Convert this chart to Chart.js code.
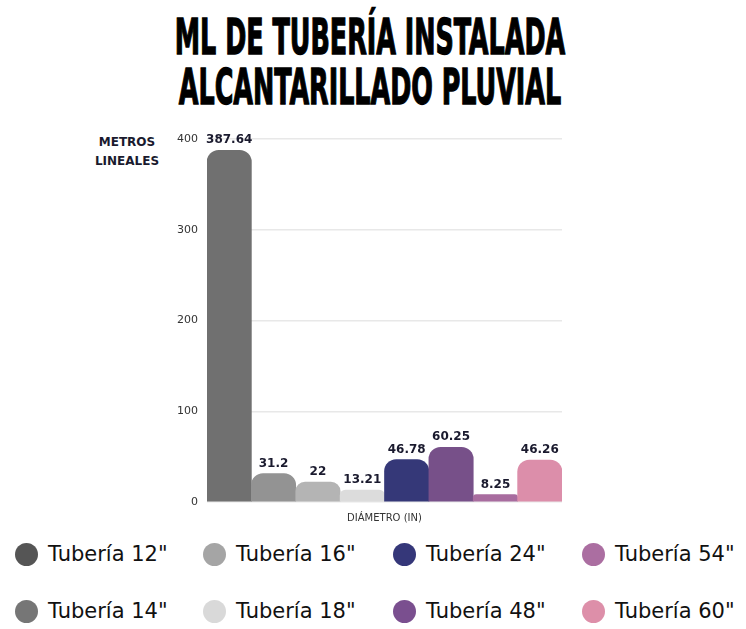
<!DOCTYPE html>
<html lang="es">
<head>
<meta charset="utf-8">
<title>ML de tubería instalada - Alcantarillado pluvial</title>
<script src="https://cdn.jsdelivr.net/npm/chart.js@4/dist/chart.umd.min.js"></script>
<style>
  html, body { margin: 0; padding: 0; background: #fff; }
  body { width: 746px; height: 629px; position: relative; overflow: hidden; }
  .linea {
    position: absolute; left: 0; width: 740px; text-align: center;
    font-family: "Liberation Sans Narrow", "DejaVu Sans Condensed", sans-serif;
    font-weight: bold; font-size: 50px; line-height: 50px; color: #000;
    -webkit-text-stroke: 1.3px #000;
    transform: scaleX(0.565); transform-origin: 370px 0;
  }
  #tituloY {
    position: absolute; left: 77px; top: 133px; width: 100px; text-align: center;
    font-family: "DejaVu Sans", sans-serif; font-weight: bold; font-size: 12px;
    line-height: 19px; color: #1a1a2e;
  }
  #contenedor { position: absolute; left: 0; top: 110px; width: 600px; height: 414px; }
  .item {
    position: absolute; display: flex; align-items: center;
    font-family: "DejaVu Sans", sans-serif; font-size: 21px; color: #111;
  }
  .punto { width: 23px; height: 23px; border-radius: 50%; margin-right: 10px; }
</style>
</head>
<body>
<div class="linea" style="top:12px">ML DE TUBERÍA INSTALADA</div>
<div class="linea" style="top:62px">ALCANTARILLADO PLUVIAL</div>
<div id="tituloY">METROS<br>LINEALES</div>
<div id="contenedor"><canvas id="grafica"></canvas></div>
<div id="leyenda"></div>

<script>
// Datos de la gráfica
const diametros = ['Tubería 12"', 'Tubería 14"', 'Tubería 16"', 'Tubería 18"',
                   'Tubería 24"', 'Tubería 48"', 'Tubería 54"', 'Tubería 60"'];
const metros = [387.64, 31.2, 22, 13.21, 46.78, 60.25, 8.25, 46.26];
const etiquetasY = [0, 100, 200, 300, 400];
const coloresBarra = ['#707070', '#939393', '#b4b4b4', '#dcdcdc',
                      '#353878', '#775089', '#a86c9f', '#dc8eaa'];
const coloresLeyenda = ['#555555', '#767676', '#a5a5a5', '#d9d9d9',
                        '#353779', '#7a4f8f', '#ab6ea1', '#dd8fa9'];

// Leyenda en 4 columnas (se llena por columnas)
const leyenda = document.getElementById('leyenda');
const colX = [15, 203, 393, 582];
const filaY = [554, 611];
diametros.forEach((nombre, i) => {
    const item = document.createElement('div');
    item.className = 'item';
    item.style.left = colX[Math.floor(i / 2)] + 'px';
    item.style.top = (filaY[i % 2] - 14) + 'px';
    item.style.height = '28px';
    const punto = document.createElement('span');
    punto.className = 'punto';
    punto.style.background = coloresLeyenda[i];
    item.appendChild(punto);
    item.appendChild(document.createTextNode(nombre));
    leyenda.appendChild(item);
});

// Plugin para poner el valor encima de cada barra
const valoresEncima = {
    id: 'valoresEncima',
    afterDatasetsDraw(chart) {
        const ctx = chart.ctx;
        ctx.save();
        ctx.font = 'bold 12px "DejaVu Sans", sans-serif';
        ctx.fillStyle = '#1a1a2e';
        ctx.textAlign = 'center';
        ctx.textBaseline = 'bottom';
        chart.getDatasetMeta(0).data.forEach((barra, i) => {
            ctx.fillText(String(metros[i]), barra.x, barra.y - 4);
        });
        ctx.restore();
    }
};

new Chart(document.getElementById('grafica'), {
    type: 'bar',
    data: {
        labels: diametros,
        datasets: [{
            data: metros,
            backgroundColor: coloresBarra,
            borderRadius: { topLeft: 12, topRight: 12 },
            borderSkipped: 'bottom',
            categoryPercentage: 1,
            barPercentage: 1
        }]
    },
    options: {
        responsive: true,
        maintainAspectRatio: false,
        animation: false,
        layout: { padding: { left: 167, right: 38, top: 29, bottom: 0 } },
        plugins: { legend: { display: false }, tooltip: { enabled: false } },
        scales: {
            x: {
                grid: { display: false },
                border: { display: false },
                ticks: { display: false },
                title: {
                    display: true,
                    text: 'DIÁMETRO (IN)',
                    color: '#333',
                    font: { family: '"DejaVu Sans", sans-serif', size: 10 },
                    padding: 0
                },
                afterFit(scale) { scale.height = 22; }
            },
            y: {
                min: 0,
                max: 400,
                afterBuildTicks(scale) { scale.ticks = etiquetasY.map(v => ({ value: v })); },
                grid: { color: '#e8e8e8', lineWidth: 1.5, drawTicks: false },
                border: { display: false },
                ticks: {
                    padding: 9,
                    color: '#333',
                    font: { family: '"DejaVu Sans", sans-serif', size: 11 }
                },
                afterFit(scale) { scale.width = 40; }
            }
        }
    },
    plugins: [valoresEncima]
});
</script>
</body>
</html>
